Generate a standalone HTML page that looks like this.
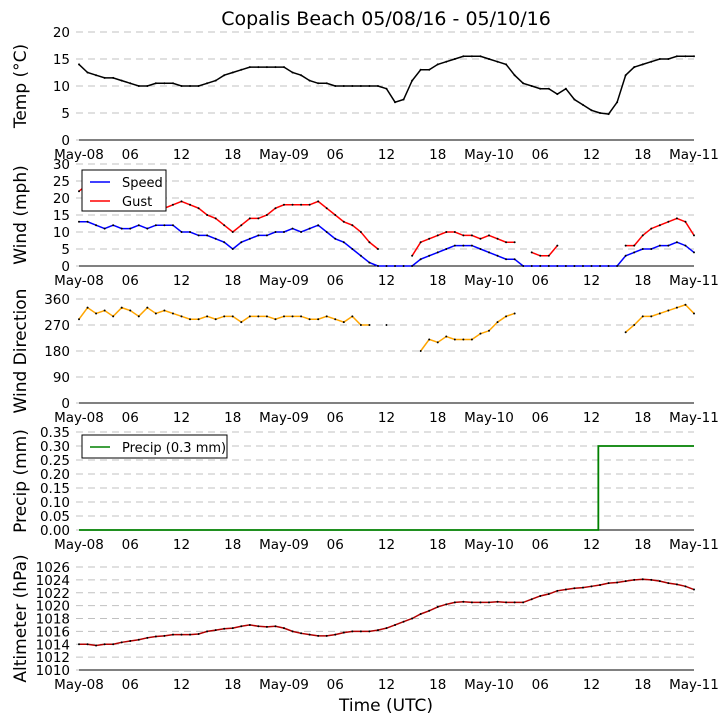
<!DOCTYPE html>
<html><head><meta charset="utf-8"><style>
body{margin:0;background:#fff;}
svg{display:block;font-family:"DejaVu Sans","Liberation Sans",sans-serif;}
</style></head><body>
<svg id="chart" width="728" height="725"></svg>
<script>
const hours=[];for(let i=0;i<=72;i++)hours.push(i);
const xTickLabels=["May-08","06","12","18","May-09","06","12","18","May-10","06","12","18","May-11"];
const temp=[14,12.5,12,11.5,11.5,11,10.5,10,10,10.5,10.5,10.5,10,10,10,10.5,11,12,12.5,13,13.5,13.5,13.5,13.5,13.5,12.5,12,11,10.5,10.5,10,10,10,10,10,10,9.5,7,7.5,11,13,13,14,14.5,15,15.5,15.5,15.5,15,14.5,14,12,10.5,10,9.5,9.5,8.5,9.5,7.5,6.5,5.5,5,4.8,7,12,13.5,14,14.5,15,15,15.5,15.5,15.5];
const speed=[13,13,12,11,12,11,11,12,11,12,12,12,10,10,9,9,8,7,5,7,8,9,9,10,10,11,10,11,12,10,8,7,5,3,1,0,0,0,0,0,2,3,4,5,6,6,6,5,4,3,2,2,0,0,0,0,0,0,0,0,0,0,0,0,3,4,5,5,6,6,7,6,4];
const gust=[22,24,23,20,19,18,18,18,17,17,17,18,19,18,17,15,14,12,10,12,14,14,15,17,18,18,18,18,19,17,15,13,12,10,7,5,null,null,null,3,7,8,9,10,10,9,9,8,9,8,7,7,null,4,3,3,6,null,null,null,null,null,null,null,6,6,9,11,12,13,14,13,9];
const direction=[290,330,310,320,300,330,320,300,330,310,320,310,300,290,290,300,290,300,300,280,300,300,300,290,300,300,300,290,290,300,290,280,300,270,270,null,270,null,null,null,180,220,210,230,220,220,220,240,250,280,300,310,null,null,null,null,null,null,null,null,null,null,null,null,245,270,300,300,310,320,330,340,310];
const precipStart=60.8, precipTotal=0.3;
const altim=[1014,1014,1013.8,1014,1014,1014.3,1014.5,1014.7,1015,1015.2,1015.3,1015.5,1015.5,1015.5,1015.6,1016,1016.2,1016.4,1016.5,1016.8,1017,1016.8,1016.7,1016.8,1016.5,1016,1015.7,1015.5,1015.3,1015.3,1015.5,1015.8,1016,1016,1016,1016.2,1016.5,1017,1017.5,1018,1018.7,1019.2,1019.8,1020.2,1020.5,1020.6,1020.5,1020.5,1020.5,1020.6,1020.5,1020.5,1020.5,1021,1021.5,1021.8,1022.3,1022.5,1022.7,1022.8,1023,1023.2,1023.5,1023.6,1023.8,1024,1024.1,1024,1023.8,1023.5,1023.3,1023,1022.5];

const svg=document.getElementById('chart');
const NS='http://www.w3.org/2000/svg';
function mk(tag,attrs,parent,text){const e=document.createElementNS(NS,tag);for(const k in attrs)e.setAttribute(k,attrs[k]);if(text!==undefined)e.textContent=text;(parent||svg).appendChild(e);return e;}
const X0=79,X1=694;
const xs=h=>X0+(X1-X0)*h/72;

function panel(name,top,bot,vmin,vmax,ticks,fmt,ylabel){
  const g=mk('g',{});
  
  
  const ys=v=>bot-(bot-top)*(v-vmin)/(vmax-vmin);
  ticks.forEach(t=>{
    const y=ys(t);
    const gl=mk('line',{x1:76,x2:X1,y1:y,y2:y,stroke:'#c0c0c0','stroke-dasharray':'7,5','stroke-width':1},g);
    
    
    const tl=mk('text',{x:70,y:y+5,'text-anchor':'end','font-size':13.5},g,fmt(t));
    
    
  });
  const ax=mk('line',{x1:X0,x2:X1,y1:bot,y2:bot,stroke:'#000','stroke-width':1},g);
  
  
  xTickLabels.forEach((l,i)=>{
    const t=mk('text',{x:xs(i*6),y:bot+19,'text-anchor':'middle','font-size':13.5},g,l);
    
    
  });
  const cy=(top+bot)/2;
  const yl=mk('text',{x:26,y:cy,'text-anchor':'middle','font-size':17,transform:`rotate(-90 26 ${cy})`},g,ylabel);
  
  
  return {g,ys};
}
function series(p,arr,color,name,width){
  let segs=[],cur=[];
  arr.forEach((v,i)=>{if(v===null){if(cur.length)segs.push(cur);cur=[];}else cur.push([xs(hours[i]),p.ys(v)]);});
  if(cur.length)segs.push(cur);
  segs.forEach(s=>{
    const l=mk('polyline',{points:s.map(q=>q.join(',')).join(' '),fill:'none',stroke:color,'stroke-width':width||1.5},p.g);
    
    
  });
  arr.forEach((v,i)=>{if(v===null)return;
    const d=mk('circle',{cx:xs(hours[i]),cy:p.ys(v),r:1,fill:'#000'},p.g);
    
    
  });
}
function legend(p,x,y,w,h,items){
  const b=mk('rect',{x,y,width:w,height:h,fill:'#fff',stroke:'#000','stroke-width':1},p.g);
  
  
  items.forEach((it,i)=>{
    const yy=y+12+i*19;
    const l=mk('line',{x1:x+8,x2:x+28,y1:yy,y2:yy,stroke:it[1],'stroke-width':1.5},p.g);
    
    
    const t=mk('text',{x:x+40,y:yy+5,'font-size':13},p.g,it[0]);
    
    
  });
}
const title=mk('text',{x:386,y:25,'text-anchor':'middle','font-size':19},svg,'Copalis Beach 05/08/16 - 05/10/16');



const p1=panel('temp',32,140,0,20,[0,5,10,15,20],v=>v,'Temp (\u00B0C)');
series(p1,temp,'#000','temp');
const p2=panel('wind',164,266,0,30,[0,5,10,15,20,25,30],v=>v,'Wind (mph)');
series(p2,speed,'#0000ff','speed');
series(p2,gust,'#ff0000','gust');
legend(p2,82,170,84,41,[['Speed','#0000ff'],['Gust','#ff0000']]);
const p3=panel('direction',299,403,0,360,[0,90,180,270,360],v=>v,'Wind Direction');
series(p3,direction,'#ffa500','direction');
const p4=panel('precip',432,530,0,0.35,[0,0.05,0.1,0.15,0.2,0.25,0.3,0.35],v=>v.toFixed(2),'Precip (mm)');
const pts=[[xs(0),p4.ys(0)],[xs(precipStart),p4.ys(0)],[xs(precipStart),p4.ys(precipTotal)],[xs(72),p4.ys(precipTotal)]];
const pl=mk('polyline',{points:pts.map(q=>q.join(',')).join(' '),fill:'none',stroke:'#008000','stroke-width':1.8},p4.g);


legend(p4,82,435,145,23,[['Precip (0.3 mm)','#008000']]);
const p5=panel('altimeter',567,670,1010,1026,[1010,1012,1014,1016,1018,1020,1022,1024,1026],v=>v,'Altimeter (hPa)');
series(p5,altim,'#b00000','altimeter');
const xl=mk('text',{x:386,y:711,'text-anchor':'middle','font-size':17},svg,'Time (UTC)');


</script>
</body></html>
